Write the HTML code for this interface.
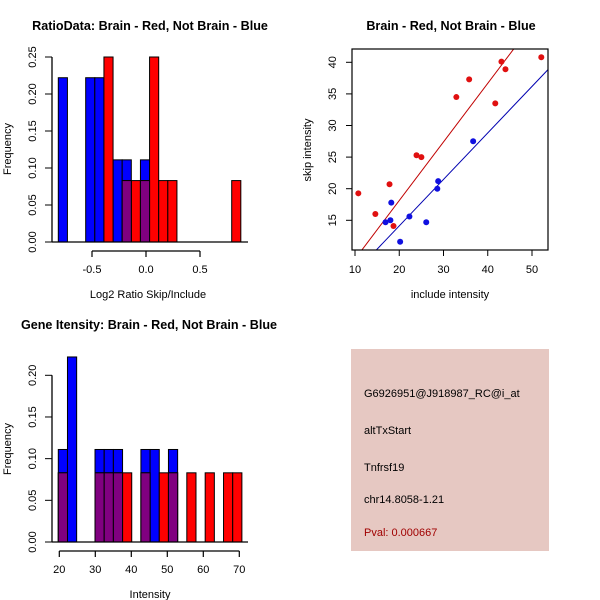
<!DOCTYPE html>
<html><head><meta charset="utf-8"><style>
body{margin:0;background:#fff;}
svg{display:block;font-family:"Liberation Sans",sans-serif;}
</style></head><body>
<svg id="chart" width="600" height="600" viewBox="0 0 600 600">
<rect width="600" height="600" fill="#fff"/>
<g id="p1"></g>
<g id="p2"></g>
<g id="p3"></g>
<g id="p4">
<rect x="351" y="349" width="198" height="202" fill="#e6c8c2"/>
<text x="364" y="397" font-size="11">G6926951@J918987_RC@i_at</text>
<text x="364" y="434" font-size="11">altTxStart</text>
<text x="364" y="471" font-size="11">Tnfrsf19</text>
<text x="364" y="503" font-size="11">chr14.8058-1.21</text>
<text x="364" y="536" font-size="11" fill="#a00000">Pval: 0.000667</text>
</g>
<text x="150" y="30" font-size="12.6" font-weight="bold" text-anchor="middle">RatioData: Brain - Red, Not Brain - Blue</text>
<text x="148" y="298" font-size="11" text-anchor="middle">Log2 Ratio Skip/Include</text>
<text x="11" y="149" font-size="11" text-anchor="middle" transform="rotate(-90 11 149)">Frequency</text>
<text x="451" y="30" font-size="12.6" font-weight="bold" text-anchor="middle">Brain - Red, Not Brain - Blue</text>
<text x="450" y="298" font-size="11" text-anchor="middle">include intensity</text>
<text x="311" y="150" font-size="11" text-anchor="middle" transform="rotate(-90 311 150)">skip intensity</text>
<text x="149" y="329" font-size="12.6" font-weight="bold" text-anchor="middle">Gene Itensity: Brain - Red, Not Brain - Blue</text>
<text x="150" y="598" font-size="11" text-anchor="middle">Intensity</text>
<text x="11" y="449" font-size="11" text-anchor="middle" transform="rotate(-90 11 449)">Frequency</text>
</svg>
<script>
// ---- Plot 1 data: ratio histogram ----
const ratioBreakStart = -0.812;
const ratioBinWidth = 0.0845;
const ratioBlueBins = [0, 3, 4, 6, 7, 9];
const ratioBlueFreq = [0.222, 0.222, 0.222, 0.111, 0.111, 0.111];
const ratioRedBins = [5, 7, 8, 9, 10, 11, 12, 19];
const ratioRedFreq = [0.25, 0.083, 0.083, 0.083, 0.25, 0.083, 0.083, 0.083];
const ratioYTicks = [0, 0.05, 0.10, 0.15, 0.20, 0.25];
const ratioYLabels = ["0.00", "0.05", "0.10", "0.15", "0.20", "0.25"];
const ratioXTicks = [-0.5, 0, 0.5];
const ratioXLabels = ["-0.5", "0.0", "0.5"];
// ---- Plot 2 data: scatter ----
const redInclude = [10.75, 14.6, 17.8, 18.7, 23.9, 25.0, 32.9, 35.8, 41.7, 43.1, 44.0, 52.1];
const redSkip = [19.27, 16.0, 20.7, 14.1, 25.3, 25.0, 34.5, 37.3, 33.5, 40.1, 38.9, 40.8];
const blueInclude = [16.9, 18.0, 18.2, 20.2, 22.3, 26.1, 28.6, 28.8, 36.7];
const blueSkip = [14.7, 15.0, 17.8, 11.6, 15.6, 14.7, 20.0, 21.2, 27.5];
const redFit = [-0.41, 0.927];
const blueFit = [-0.6, 0.7356];
const scatterXTicks = [10, 20, 30, 40, 50];
const scatterYTicks = [15, 20, 25, 30, 35, 40];
// ---- Plot 3 data: gene intensity histogram ----
const geneBreakStart = 19.72;
const geneBinWidth = 2.55;
const geneBlueBins = [0, 1, 4, 5, 6, 9, 10, 12];
const geneBlueFreq = [0.111, 0.222, 0.111, 0.111, 0.111, 0.111, 0.111, 0.111];
const geneRedBins = [0, 4, 5, 6, 7, 9, 11, 12, 14, 16, 18, 19];
const geneRedFreq = [0.083, 0.083, 0.083, 0.083, 0.083, 0.083, 0.083, 0.083, 0.083, 0.083, 0.083, 0.083];
const geneYTicks = [0, 0.05, 0.10, 0.15, 0.20];
const geneYLabels = ["0.00", "0.05", "0.10", "0.15", "0.20"];
const geneXTicks = [20, 30, 40, 50, 60, 70];

const NS = "http://www.w3.org/2000/svg";
function mk(parent, tag, attrs, text) {
  const e = document.createElementNS(NS, tag);
  for (const k in attrs) e.setAttribute(k, attrs[k]);
  if (text !== undefined) e.textContent = text;
  parent.appendChild(e);
  return e;
}

function histogram(g, o) {
  const sx = v => o.x0 + (v - o.xv0) * o.xs;
  const sy = v => o.y0 - v * o.ys;
  const blueMap = {}, redMap = {};
  o.blueBins.forEach((b, i) => blueMap[b] = o.blueFreq[i]);
  o.redBins.forEach((b, i) => redMap[b] = o.redFreq[i]);
  function bar(idx, val, color, name) {
    const l = sx(o.bStart + idx * o.bW), r = sx(o.bStart + (idx + 1) * o.bW);
    const el = mk(g, "rect", {x: l, y: sy(val), width: r - l, height: sy(0) - sy(val), fill: color, stroke: "#000", "stroke-width": 1});
    
    
  }
  o.blueBins.forEach((b, i) => bar(b, o.blueFreq[i], "#0000ff", "blue-bar"));
  o.redBins.forEach((b, i) => bar(b, o.redFreq[i], "#ff0000", "red-bar"));
  o.redBins.forEach(b => { if (blueMap[b] !== undefined) bar(b, Math.min(blueMap[b], redMap[b]), "#800080", "overlap-bar"); });
  const base = mk(g, "line", {x1: o.x0l, x2: o.x0r, y1: sy(0), y2: sy(0), stroke: "#000", "stroke-width": 1.3});
  
  
  const yt = o.yTicks;
  const ya = mk(g, "line", {x1: 52, x2: 52, y1: sy(yt[0]), y2: sy(yt[yt.length - 1]), stroke: "#000", "stroke-width": 1.3});
  
  
  yt.forEach((v, i) => {
    mk(g, "line", {x1: 45, x2: 52, y1: sy(v), y2: sy(v), stroke: "#000"});
    const t = mk(g, "text", {x: 36, y: sy(v), "font-size": 11, "text-anchor": "middle", transform: `rotate(-90 36 ${sy(v)})`}, o.yLabels[i]);
    
    
  });
  const xt = o.xTicks;
  const xa = mk(g, "line", {x1: sx(xt[0]), x2: sx(xt[xt.length - 1]), y1: o.axY, y2: o.axY, stroke: "#000", "stroke-width": 1.3});
  
  
  xt.forEach((v, i) => {
    mk(g, "line", {x1: sx(v), x2: sx(v), y1: o.axY, y2: o.axY + 6, stroke: "#000", "stroke-width": 1.2});
    const t = mk(g, "text", {x: sx(v), y: o.axY + 22, "font-size": 11, "text-anchor": "middle"}, o.xLabels[i]);
    
    
  });
}

histogram(document.getElementById("p1"), {
  x0: 146, xv0: 0, xs: 108, y0: 242, ys: 740, x0l: 52, x0r: 248, axY: 251,
  bStart: ratioBreakStart, bW: ratioBinWidth,
  blueBins: ratioBlueBins, blueFreq: ratioBlueFreq, redBins: ratioRedBins, redFreq: ratioRedFreq,
  yTicks: ratioYTicks, yLabels: ratioYLabels, xTicks: ratioXTicks, xLabels: ratioXLabels
});
histogram(document.getElementById("p3"), {
  x0: 59.3, xv0: 20, xs: 3.6, y0: 542, ys: 833.5, x0l: 52, x0r: 248, axY: 551,
  bStart: geneBreakStart, bW: geneBinWidth,
  blueBins: geneBlueBins, blueFreq: geneBlueFreq, redBins: geneRedBins, redFreq: geneRedFreq,
  yTicks: geneYTicks, yLabels: geneYLabels, xTicks: geneXTicks, xLabels: geneXTicks.map(String)
});

(function () {
  const g = document.getElementById("p2");
  const L = 352, R = 548, T = 49, B = 250;
  const sx = v => 355 + (v - 10) * 4.425;
  const sy = v => 62.3 + (40 - v) * 6.32;
  const xMin = 10 + (L - 355) / 4.425, xMax = 10 + (R - 355) / 4.425;
  const cp = mk(g, "clipPath", {id: "sc"});
  mk(cp, "rect", {x: L, y: T, width: R - L, height: B - T});
  function fit(f, color, name) {
    const el = mk(g, "line", {x1: sx(xMin), y1: sy(f[0] + f[1] * xMin), x2: sx(xMax), y2: sy(f[0] + f[1] * xMax), stroke: color, "stroke-width": 1, "clip-path": "url(#sc)"});
    
    
  }
  fit(redFit, "#c00000", "red-fit-line");
  fit(blueFit, "#0000b0", "blue-fit-line");
  redInclude.forEach((v, i) => {
    const c = mk(g, "circle", {cx: sx(v), cy: sy(redSkip[i]), r: 3, fill: "#e01010"});
    
    
  });
  blueInclude.forEach((v, i) => {
    const c = mk(g, "circle", {cx: sx(v), cy: sy(blueSkip[i]), r: 3, fill: "#1010e0"});
    
    
  });
  const box = mk(g, "rect", {x: L, y: T, width: R - L, height: B - T, fill: "none", stroke: "#000", "stroke-width": 1.2});
  
  
  scatterXTicks.forEach(v => {
    mk(g, "line", {x1: sx(v), x2: sx(v), y1: B, y2: B + 6, stroke: "#000"});
    const t = mk(g, "text", {x: sx(v), y: 273, "font-size": 11, "text-anchor": "middle"}, String(v));
    
    
  });
  scatterYTicks.forEach(v => {
    mk(g, "line", {x1: L - 6, x2: L, y1: sy(v), y2: sy(v), stroke: "#000"});
    const t = mk(g, "text", {x: 336, y: sy(v), "font-size": 11, "text-anchor": "middle", transform: `rotate(-90 336 ${sy(v)})`}, String(v));
    
    
  });
})();
</script>
</body></html>
